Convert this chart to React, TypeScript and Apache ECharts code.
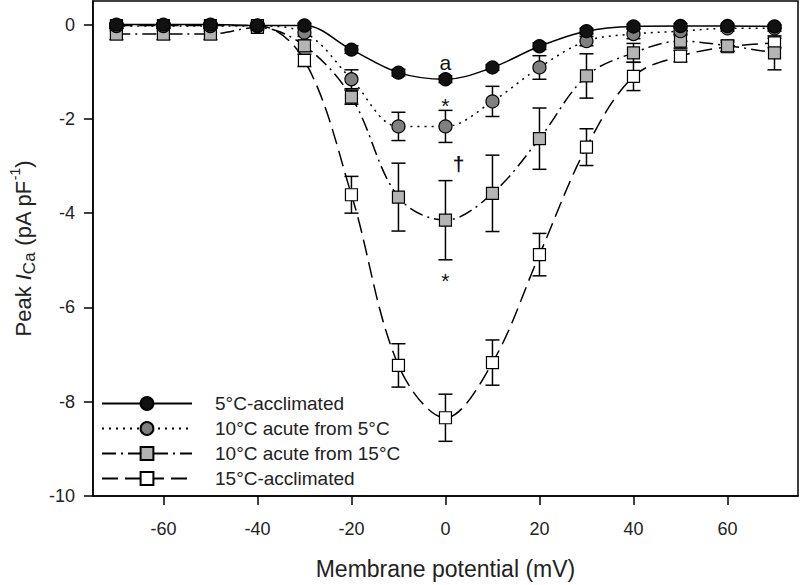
import React, { useEffect, useRef } from "react";
import * as echarts from "echarts";

// ---- data ----
const voltages = [-70, -60, -50, -40, -30, -20, -10, 0, 10, 20, 30, 40, 50, 60, 70];

const seriesNames = [
  "5°C-acclimated",
  "10°C acute from 5°C",
  "10°C acute from 15°C",
  "15°C-acclimated",
];

const acclimated5 = [0, 0, 0, -0.02, -0.02, -0.53, -1.02, -1.16, -0.91, -0.46, -0.14, -0.04, -0.03, -0.03, -0.04];
const acclimated5Err = [0.03, 0.03, 0.03, 0.03, 0.05, 0.08, 0.07, 0.07, 0.06, 0.07, 0.06, 0.05, 0.05, 0.04, 0.04];

const acuteFrom5 = [-0.03, -0.03, -0.03, -0.03, -0.17, -1.16, -2.16, -2.16, -1.63, -0.91, -0.35, -0.2, -0.14, -0.08, -0.08];
const acuteFrom5Err = [0.05, 0.05, 0.05, 0.05, 0.08, 0.2, 0.3, 0.34, 0.32, 0.25, 0.1, 0.1, 0.08, 0.06, 0.06];

const acuteFrom15 = [-0.2, -0.2, -0.2, -0.06, -0.45, -1.54, -3.66, -4.15, -3.58, -2.42, -1.09, -0.6, -0.35, -0.45, -0.6];
const acuteFrom15Err = [0.12, 0.12, 0.12, 0.05, 0.12, 0.15, 0.72, 0.84, 0.81, 0.65, 0.47, 0.2, 0.15, 0.12, 0.36];

const acclimated15 = [-0.02, -0.02, -0.02, -0.02, -0.76, -3.61, -7.23, -8.34, -7.17, -4.88, -2.6, -1.1, -0.67, -0.47, -0.39];
const acclimated15Err = [0.05, 0.05, 0.05, 0.05, 0.13, 0.39, 0.46, 0.5, 0.48, 0.45, 0.39, 0.3, 0.12, 0.1, 0.1];

const xTicks = [-60, -40, -20, 0, 20, 40, 60];
const yTicks = [-10, -8, -6, -4, -2, 0];

const annotX = [0, 0, 2.8, 0];
const annotY = [-0.8, -1.72, -2.95, -5.42];
const annotText = ["a", "*", "†", "*"];
const annotBold = [false, false, true, false];

const FONT = "'Liberation Sans', Arial, sans-serif";
const TEXT = "#222";

function errorBars(name: string, values: number[], errs: number[]) {
  return {
    type: "custom",
    name,
    silent: true,
    z: 1,
    data: voltages.map((v, i) => [v, values[i] - errs[i], values[i] + errs[i]]),
    encode: { x: 0, y: [1, 2] },
    renderItem: (_params: any, api: any) => {
      const x = api.value(0);
      const lo = api.coord([x, api.value(1)]);
      const hi = api.coord([x, api.value(2)]);
      const w = 7;
      const style = { stroke: "#000", lineWidth: 1.5 };
      return {
        type: "group",
        children: [
          { type: "line", shape: { x1: lo[0], y1: lo[1], x2: hi[0], y2: hi[1] }, style },
          { type: "line", shape: { x1: lo[0] - w, y1: lo[1], x2: lo[0] + w, y2: lo[1] }, style },
          { type: "line", shape: { x1: hi[0] - w, y1: hi[1], x2: hi[0] + w, y2: hi[1] }, style },
        ],
      };
    },
  };
}

function curve(name: string, values: number[], symbol: string, size: number, fill: string, dash: any, z: number) {
  return {
    type: "line",
    name,
    z,
    smooth: 0.35,
    data: voltages.map((v, i) => [v, values[i]]),
    symbol,
    symbolSize: size,
    showSymbol: true,
    itemStyle: { color: fill, borderColor: "#000", borderWidth: 1.2 },
    lineStyle: { color: "#000", width: 1.5, type: dash },
    emphasis: { disabled: true },
  };
}

export default function App() {
  const ref = useRef<HTMLDivElement>(null);
  useEffect(() => {
    document.body.style.margin = "0";
    const chart = echarts.init(ref.current!, null, { renderer: "svg" });
    const option: any = {
      animation: false,
      backgroundColor: "#fff",
      textStyle: { fontFamily: FONT, color: TEXT },
      grid: {
        left: 84,
        right: 2,
        top: 1,
        bottom: 84,
        show: true,
        borderColor: "#000",
        borderWidth: 1.5,
        backgroundColor: "transparent",
      },
      legend: {
        show: true,
        data: seriesNames,
        orient: "vertical",
        left: 96,
        top: 389,
        itemWidth: 90,
        itemHeight: 16,
        itemGap: 6,
        selectedMode: false,
        textStyle: { fontSize: 19, color: TEXT, fontFamily: FONT, lineHeight: 16, padding: [0, 0, 0, 18] },
      },
      xAxis: {
        type: "value",
        min: -75,
        max: 75,
        name: "Membrane potential (mV)",
        nameLocation: "middle",
        nameGap: 61,
        nameTextStyle: { fontSize: 23, color: TEXT, fontFamily: FONT },
        axisLine: { show: true, onZero: false, lineStyle: { color: "#000", width: 1.5 } },
        axisTick: { show: true, inside: false, length: 9, lineStyle: { color: "#000", width: 1.5 }, customValues: xTicks },
        axisLabel: { fontSize: 18, color: TEXT, margin: 24, customValues: xTicks },
        splitLine: { show: false },
      },
      yAxis: {
        type: "value",
        min: -10,
        max: 0.5,
        name: "{n|Peak }{i|I}{s|Ca}{n| (pA pF}{p|-1}{n|)}",
        nameLocation: "middle",
        nameGap: 47,
        nameTextStyle: {
          rich: {
            n: { fontSize: 22, color: TEXT, fontFamily: FONT, lineHeight: 30, verticalAlign: "middle" },
            i: { fontSize: 22, color: TEXT, fontFamily: FONT, fontStyle: "italic", lineHeight: 30, verticalAlign: "middle" },
            s: { fontSize: 17, color: TEXT, fontFamily: FONT, lineHeight: 30, verticalAlign: "bottom" },
            p: { fontSize: 14, color: TEXT, fontFamily: FONT, lineHeight: 30, verticalAlign: "top" },
          },
        },
        axisLine: { show: true, onZero: false, lineStyle: { color: "#000", width: 1.5 } },
        axisTick: { show: true, inside: false, length: 9, lineStyle: { color: "#000", width: 1.5 }, customValues: yTicks },
        axisLabel: { fontSize: 18, color: TEXT, margin: 18, customValues: yTicks },
        splitLine: { show: false },
      },
      series: [
        errorBars("err-5", acclimated5, acclimated5Err),
        errorBars("err-a5", acuteFrom5, acuteFrom5Err),
        errorBars("err-a15", acuteFrom15, acuteFrom15Err),
        errorBars("err-15", acclimated15, acclimated15Err),
        curve(seriesNames[3], acclimated15, "rect", 12, "#ffffff", [16, 7], 2),
        curve(seriesNames[2], acuteFrom15, "rect", 12, "#b4b4b4", [14, 5, 2, 5], 3),
        curve(seriesNames[1], acuteFrom5, "circle", 13, "#808080", [2, 5], 4),
        curve(seriesNames[0], acclimated5, "circle", 13, "#111111", "solid", 5),
        {
          type: "scatter",
          name: "annotations",
          z: 6,
          silent: true,
          symbolSize: 0,
          itemStyle: { color: "transparent", opacity: 1 },
          data: annotX.map((x, i) => ({
            value: [x, annotY[i]],
            label: { fontWeight: annotBold[i] ? "bold" : "normal" },
          })),
          label: {
            show: true,
            position: "inside",
            formatter: (p: any) => annotText[p.dataIndex],
            fontSize: 21,
            color: "#111",
            opacity: 1,
            fontFamily: FONT,
          },
        },
      ],
    };
    chart.setOption(option);
    return () => chart.dispose();
  }, []);
  return <div ref={ref} style={{ width: 800, height: 585 }} />;
}
